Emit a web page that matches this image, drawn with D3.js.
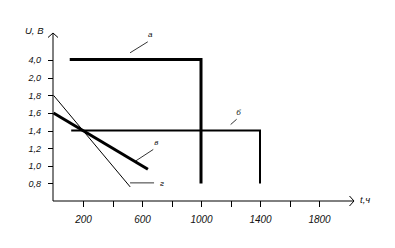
<!DOCTYPE html>
<html>
<head>
<meta charset="utf-8">
<script src="https://cdn.jsdelivr.net/npm/d3@7"></script>
<style>
  body { margin: 0; background: #fff; }
  svg { display: block; font-family: "Liberation Sans", Arial, sans-serif; font-style: italic; }
</style>
</head>
<body>
<svg id="chart" width="395" height="248"></svg>
<script>
// tick values
var xTicks = [200, 400, 600, 800, 1000, 1200, 1400, 1600, 1800];
var xLabels = [200, 600, 1000, 1400, 1800];
var yTicks = [0.8, 1.0, 1.2, 1.4, 1.6, 1.8, 2.0, 4.0];

// curves, [t (h), U (V)]
var curveA = [[110, 4.0], [1000, 4.0], [1000, 0.8]];
var curveB = [[120, 1.4], [1400, 1.4], [1400, 0.8]];
var curveV = [[0, 1.6], [640, 0.96]];
var curveG = [[0, 1.8], [520, 0.76]];

var curveNames = ["а", "б", "в", "г"];

var svg = d3.select("#chart");

// y axis has a break: 0.6..2.0 is linear, then squeezed up to 4.0
var x = d3.scaleLinear().domain([0, 2000]).range([53.5, 348.5]);
var y = d3.scaleLinear().domain([0.6, 2.0, 4.0]).range([201, 77.7, 59.5]);

var x0 = 53, y0 = 201;

var line = d3.line()
  .x(function(d) { return x(d[0]); })
  .y(function(d) { return y(d[1]); });

// axes
var gy = svg.append("g")
  .attr("transform", "translate(" + x0 + ",0)")
  .call(d3.axisLeft(y)
    .tickValues(yTicks)
    .tickSize(5)
    .tickPadding(7)
    .tickFormat(function(d) { return d.toFixed(1).replace(".", ","); }));

var gx = svg.append("g")
  .attr("transform", "translate(0," + y0 + ")")
  .call(d3.axisBottom(x)
    .tickValues(xTicks)
    .tickSize(6)
    .tickPadding(9)
    .tickFormat(function(d) { return xLabels.indexOf(d) >= 0 ? d : ""; }));

[gx, gy].forEach(function(g, i) {
  g.select(".domain").remove();
  g.selectAll(".tick line").attr("stroke", "#000").attr("shape-rendering", "crispEdges");
  g.selectAll(".tick text")
    .attr("fill", "#111")
    .style("font-family", "'Liberation Sans', Arial, sans-serif")
    .style("font-style", "italic")
    .style("font-size", i == 0 ? "10px" : "9px");
});

// axis lines with open arrows
svg.append("path")
  .attr("d", "M" + x0 + "," + y0 + "V33.5M" + (x0 - 5) + ",37.5L" + x0 + ",33L" + (x0 + 5) + ",37.5")
  .attr("fill", "none").attr("stroke", "#000");
svg.append("path")
  .attr("d", "M" + x0 + "," + y0 + "H353.5M349.5," + (y0 - 5) + "L354," + y0 + "L349.5," + (y0 + 5))
  .attr("fill", "none").attr("stroke", "#000");

svg.append("text").attr("x", 25).attr("y", 33.5)
  .style("font-size", "9.5px").attr("fill", "#111").text("U, В");
svg.append("text").attr("x", 360).attr("y", 203)
  .style("font-size", "9.5px").attr("fill", "#111").text("t,ч");

// curves
var curves = [
  { data: curveA, w: 3 },
  { data: curveB, w: 2 },
  { data: curveV, w: 3 },
  { data: curveG, w: 1 }
];

svg.selectAll("path.curve")
  .data(curves)
  .enter().append("path")
  .attr("class", "curve")
  .attr("d", function(d) { return line(d.data); })
  .attr("fill", "none")
  .attr("stroke", "#000")
  .attr("stroke-width", function(d) { return d.w; })
  .attr("stroke-linejoin", "miter");

// callouts: anchor point on curve (data units), then pixel offsets for leader and text
var callouts = [
  { at: [519, 4.0],  l: [0, -6.7, 17.7, -17.7],  txt: [18, -22.5] },
  { at: [1201, 1.4], l: [0, -6, 6, -11.3],       txt: [5.5, -15.5] },
  { at: [557, 1.043], l: [0, -1, 17.6, -12.5],   txt: [18.5, -16.5] },
  { at: [519, 0.8],  l: [0, -0.5, 24, -0.5],     txt: [30, 2.5] }
];

callouts.forEach(function(c, i) {
  var px = x(c.at[0]), py = y(c.at[1]);
  svg.append("line")
    .attr("x1", px + c.l[0]).attr("y1", py + c.l[1])
    .attr("x2", px + c.l[2]).attr("y2", py + c.l[3])
    .attr("stroke", "#000").attr("stroke-width", 0.8);
  svg.append("text")
    .attr("x", px + c.txt[0]).attr("y", py + c.txt[1])
    .style("font-size", "8px").attr("fill", "#111")
    .text(curveNames[i]);
});
</script>
</body>
</html>
